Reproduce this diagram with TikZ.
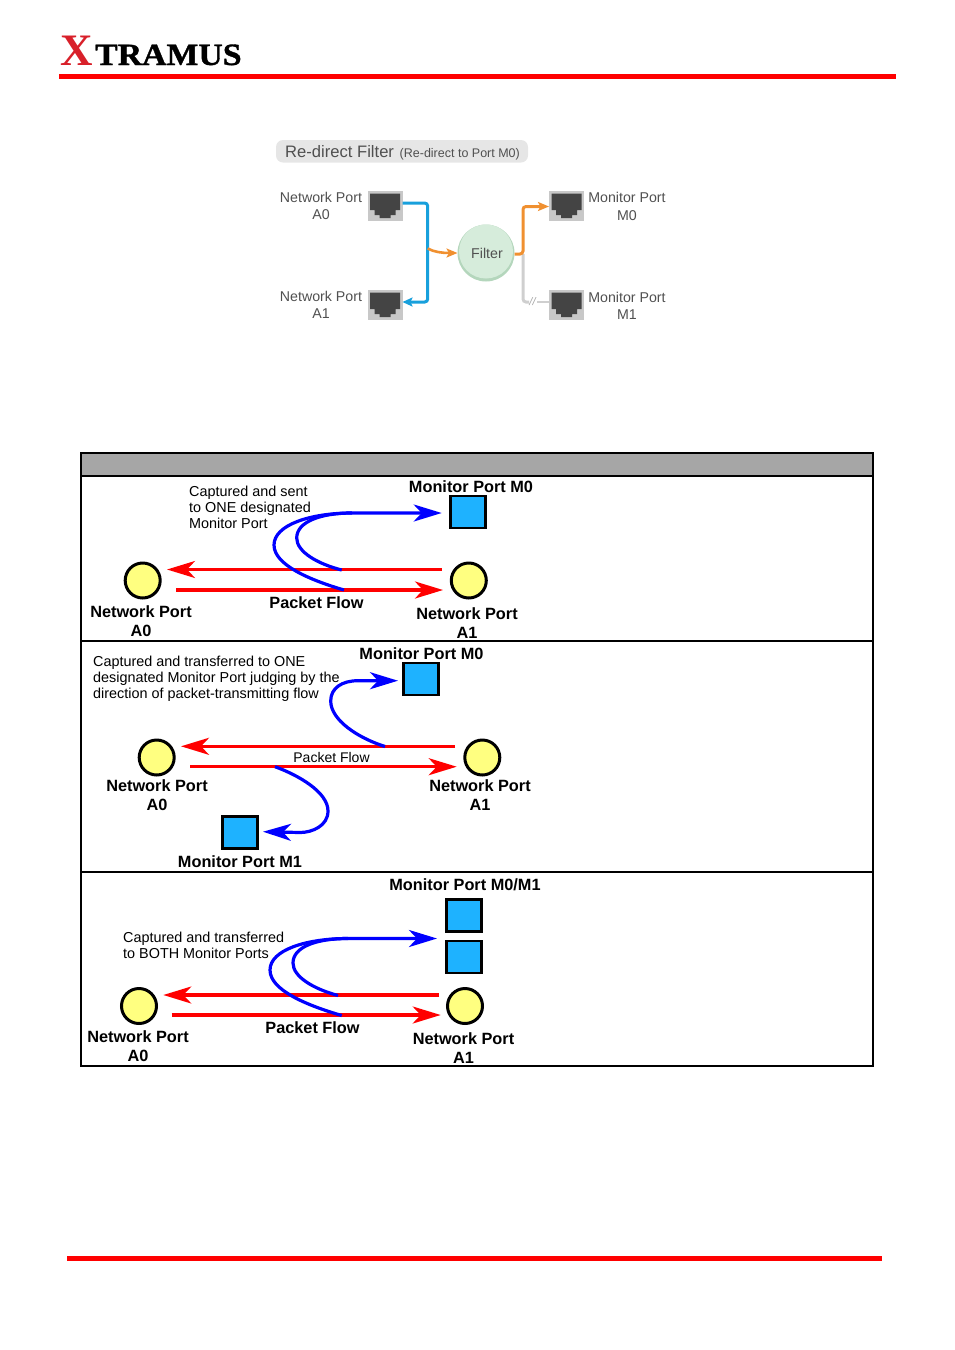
\documentclass[tikz,border=0pt]{standalone}
\usepackage{fontspec}
\setmainfont{Liberation Sans}
\newfontfamily\logofont{Liberation Serif}
\newfontfamily\logowide[FakeStretch=1.09,FakeBold=1.2]{Liberation Serif}
\usetikzlibrary{arrows.meta}
\definecolor{portyellow}{HTML}{FFFF80}
\definecolor{portblue}{HTML}{1EB2FF}
\definecolor{headgrey}{HTML}{A6A6A6}
\definecolor{pillgrey}{HTML}{E6E6E6}
\definecolor{jackgrey}{HTML}{C8C8C8}
\definecolor{jackdark}{HTML}{444444}
\definecolor{capblue}{HTML}{18A0DC}
\definecolor{filterorange}{HTML}{F09030}
\definecolor{idlegrey}{HTML}{CFCFCF}
\definecolor{filtergreen}{HTML}{D6ECDB}
\definecolor{filteredge}{HTML}{B4D6BC}
\definecolor{softtext}{HTML}{505050}
\tikzset{
  netport/.style={circle,draw=black,fill=portyellow,line width=3pt,minimum size=35pt,inner sep=0pt,outer sep=0pt},
  monport/.style={rectangle,draw=black,fill=portblue,line width=2.6pt,minimum width=35pt,minimum height=32pt,inner sep=0pt,outer sep=0pt},
  flow/.style={draw=red,line width=3.2pt,-{Stealth[length=28pt,width=17pt,inset=8pt]}},
  capture/.style={draw=blue,line width=3.2pt},
  capturetip/.style={capture,-{Stealth[length=28pt,width=17pt,inset=8pt]}},
  boldlabel/.style={font=\fontsize{16.3}{19}\selectfont\bfseries,align=center,inner sep=0pt,text=black,yshift=-0.8pt},
  note/.style={font=\fontsize{14.4}{16}\selectfont,align=left,inner sep=0pt,anchor=west,text=black},
  softlabel/.style={font=\fontsize{14.2}{17.5}\selectfont,align=center,inner sep=0pt,text=softtext},
  jack/.style={rectangle,fill=jackgrey,minimum width=35pt,minimum height=30pt,inner sep=0pt,outer sep=0pt,
    path picture={
      \fill[jackdark] ([shift={(2.5pt,-2.5pt)}]path picture bounding box.north west) -- ([shift={(-2.5pt,-2.5pt)}]path picture bounding box.north east)
        -- ([shift={(-2.5pt,11pt)}]path picture bounding box.south east) -- ([shift={(-7pt,11pt)}]path picture bounding box.south east)
        -- ([shift={(-7pt,6pt)}]path picture bounding box.south east) -- ([shift={(-12pt,6pt)}]path picture bounding box.south east)
        -- ([shift={(-12pt,3pt)}]path picture bounding box.south east) -- ([shift={(12pt,3pt)}]path picture bounding box.south west)
        -- ([shift={(12pt,6pt)}]path picture bounding box.south west) -- ([shift={(7pt,6pt)}]path picture bounding box.south west)
        -- ([shift={(7pt,11pt)}]path picture bounding box.south west) -- ([shift={(2.5pt,11pt)}]path picture bounding box.south west) -- cycle;
    }},
  softflow/.style={line width=3pt,rounded corners=3pt}
}
\begin{document}
\begin{tikzpicture}[x=1pt,y=-1pt]
\useasboundingbox (0,0) rectangle (954,1350);

% page header and footer
\node[anchor=base west,inner sep=0pt,text={rgb,255:red,216;green,32;blue,42},font=\fontsize{45}{45}\selectfont\logofont\bfseries] (logox) at (60,65) {X};
\node[anchor=base west,inner sep=0pt,font=\fontsize{31}{31}\selectfont\logowide\bfseries] (logotext) at (95,65) {TRAMUS};
\fill[red] (59,74) rectangle (896,79);
\fill[red] (67,1256) rectangle (882,1261);

% filter overview
\fill[pillgrey,rounded corners=7pt] (276,140) rectangle (528,162.5);
\node[anchor=base west,inner sep=0pt,text=softtext,font=\fontsize{16.6}{20}\selectfont] (title) at (285,157) {Re-direct Filter};
\node[anchor=base west,inner sep=0pt,text=softtext,font=\fontsize{12.5}{15}\selectfont] (subtitle) at (399.5,157) {(Re-direct to Port M0)};

\node[jack] (ja0) at (385,206) {};
\node[jack] (ja1) at (385,305) {};
\node[jack] (jm0) at (566.5,206) {};
\node[jack] (jm1) at (566.5,305) {};
\node[softlabel] (la0) at (321,206) {Network Port\\A0};
\node[softlabel] (la1) at (321,305) {Network Port\\A1};
\node[softlabel] (lm0) at (627,206.6) {Monitor Port\\M0};
\node[softlabel] (lm1) at (627,305.6) {Monitor Port\\M1};

\node[circle,fill=filteredge,minimum size=57pt,inner sep=0pt,outer sep=0pt] (filterrim) at (486,253) {};
\fill[filtergreen] (486,251.5) circle (27pt);
\node[inner sep=0pt,text=softtext,font=\fontsize{14.2}{17}\selectfont] (filterlabel) at (487,253) {Filter};

\coordinate (bus) at (427.7,248.5);
\coordinate (split) at (523,254);
\draw[capblue,softflow,-{Stealth[length=10pt,width=9pt,inset=2pt]}] (ja0.east |- 0,203) -| (427.7,302) -- (ja1.east |- 0,302);
\draw[filterorange,line width=2.6pt,-{Stealth[length=11pt,width=9pt,inset=2.5pt]}] (bus) .. controls (434,252) and (442,253) .. (filterrim.west);
\draw[idlegrey,softflow] (split) |- (529,302);
\draw[idlegrey,line width=1.8pt] (537,302) -- (jm1.west |- 0,302);
\node[inner sep=0pt,text=idlegrey!80!black,font=\fontsize{11}{11}\selectfont\itshape] (cut) at (532.5,302) {//};
\draw[filterorange,softflow,-{Stealth[length=11pt,width=9pt,inset=2.5pt]}] (filterrim.east |- split) -- (split) |- (jm0.west |- 0,206.5);

% comparison table frame
\fill[headgrey] (81,453) rectangle (873,476);
\draw[black,line width=2.4pt] (81,453) rectangle (873,1066);
\draw[black,line width=2.8pt] (81,476) -- (873,476);
\draw[black,line width=2.8pt] (81,641) -- (873,641);
\draw[black,line width=2.8pt] (81,872) -- (873,872);

% first row
\node[netport] (pa) at (142.7,580.5) {};
\node[netport] (pb) at (468.8,580.5) {};
\node[monport] (pm) at (468,512) {};
\coordinate (pr1s) at (441.7,569.5);
\coordinate (pr1e) at (167,569.5);
\coordinate (pr2s) at (176,590);
\coordinate (pr2e) at (443,590);
\coordinate (pbi) at (341.7,570);
\coordinate (pbo) at (344,590);
\coordinate (pbj) at (352,513);
\coordinate (pbt) at (441.7,513);
\draw[flow] (pr1s) -- (pr1e);
\draw[flow] (pr2s) -- (pr2e);
\draw[capture] (pbi) .. controls (318,564) and (296.7,552) .. (296.7,538) .. controls (296.7,522) and (320,513) .. (pbj);
\draw[capturetip] (pbo) .. controls (310,580) and (274,565) .. (274,545) .. controls (274,525) and (310,513) .. (pbj) -- (pbt);
\node[boldlabel] (pml) at (471,486) {Monitor Port M0};
\node[boldlabel] (pfl) at (316.5,602) {Packet Flow};
\node[boldlabel] (pal) at (141,620.5) {Network Port\\A0};
\node[boldlabel] (pbl) at (467,622) {Network Port\\A1};
\node[note] (pn) at (189,507) {Captured and sent\\to ONE designated\\Monitor Port};

% second row
\node[netport] (qa) at (156.7,757.5) {};
\node[netport] (qb) at (482.3,757.5) {};
\node[monport] (qm0) at (420.7,679) {};
\node[monport] (qm1) at (240,832.5) {};
\coordinate (qr1s) at (455,746.3);
\coordinate (qr1e) at (181,746.3);
\coordinate (qr2s) at (190,766.7);
\coordinate (qr2e) at (456.7,766.7);
\coordinate (qbu) at (385,746.5);
\coordinate (qbut) at (398,680.7);
\coordinate (qbd) at (275,766.7);
\coordinate (qbdt) at (263,831.7);
\draw[flow] (qr1s) -- (qr1e);
\draw[flow] (qr2s) -- (qr2e);
\draw[capturetip] (qbu) .. controls (358,738) and (330.7,720) .. (330.7,701) .. controls (330.7,688) and (342,680.7) .. (358,680.7) -- (qbut);
\draw[capturetip] (qbd) .. controls (298,775) and (328,792) .. (328,811) .. controls (328,826) and (312,832.5) .. (300,832.5) -- (qbdt);
\node[boldlabel] (qml0) at (421.5,653) {Monitor Port M0};
\node[boldlabel] (qml1) at (240,861) {Monitor Port M1};
\node[boldlabel] (qal) at (157,794.5) {Network Port\\A0};
\node[boldlabel] (qbl) at (480,794.5) {Network Port\\A1};
\node[inner sep=0pt,font=\fontsize{14}{16}\selectfont] (qfl) at (331.5,757.5) {Packet Flow};
\node[note] (qn) at (93,679) {Captured and transferred to ONE\\designated Monitor Port judging by the\\direction of packet-transmitting flow};

% third row
\node[netport] (ra) at (139,1006) {};
\node[netport] (rb) at (465,1006) {};
\node[monport] (rm0) at (464,915.5) {};
\node[monport] (rm1) at (464,957) {};
\coordinate (rr1s) at (439,995);
\coordinate (rr1e) at (163.3,995);
\coordinate (rr2s) at (171.7,1015);
\coordinate (rr2e) at (440.7,1015);
\coordinate (rbi) at (338,995.5);
\coordinate (rbo) at (341.7,1015.5);
\coordinate (rbj) at (348,938.5);
\coordinate (rbt) at (437,938.5);
\draw[flow] (rr1s) -- (rr1e);
\draw[flow] (rr2s) -- (rr2e);
\draw[capture] (rbi) .. controls (314,989) and (293,977) .. (293,963) .. controls (293,947) and (316,938.5) .. (rbj);
\draw[capturetip] (rbo) .. controls (306,1005) and (270,990) .. (270,970) .. controls (270,950) and (306,938.5) .. (rbj) -- (rbt);
\node[boldlabel] (rml) at (465,884) {Monitor Port M0/M1};
\node[boldlabel] (rfl) at (312.5,1027) {Packet Flow};
\node[boldlabel] (ral) at (138,1045.5) {Network Port\\A0};
\node[boldlabel] (rbl) at (463.5,1047) {Network Port\\A1};
\node[note] (rn) at (123,945) {Captured and transferred\\to BOTH Monitor Ports};
\end{tikzpicture}
\end{document}
